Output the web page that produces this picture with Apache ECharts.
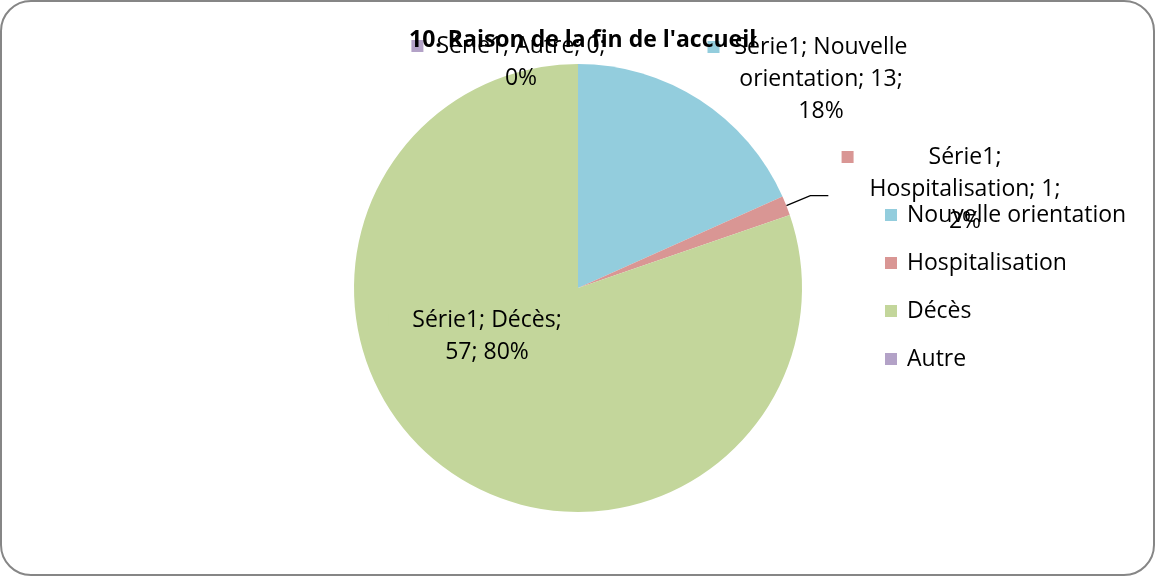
<!DOCTYPE html>
<html><head><meta charset="utf-8">
<script src="https://cdn.jsdelivr.net/npm/echarts@6/dist/echarts.min.js"></script>
<style>html,body{margin:0;padding:0;background:#fff}#c{width:1156px;height:577px}</style>
</head><body><div id="c"></div>
<script>
// ---- data ----
const seriesName = 'Série1';
const categories = ['Nouvelle orientation', 'Hospitalisation', 'Décès', 'Autre'];
const values = [13, 1, 57, 0];
const titleText = "10. Raison de la fin de l'accueil";

// ---- style / layout ----
const colors = ['#93CDDD', '#D99694', '#C3D69B', '#B3A2C7'];
const labelCenters = [[821, 79], [965, 189], [487, 336], [521, 62]];
const labelWordsPerLine = [[2, 2, 1], [1, 2, 1], [2, 2], [3, 1]];
const keyGaps = [15, 75, 12, 13];
const FONT = 'Open Sans';

const rich = { t: { fontSize: 23, fontFamily: FONT, color: '#000', lineHeight: 32 } };
colors.forEach((c, i) => {
  rich['k' + i] = { width: 12, height: 12, backgroundColor: c };
  rich['g' + i] = { width: keyGaps[i] };
  rich['e' + i] = { width: 12 + keyGaps[i] };
});

const chart = echarts.init(document.getElementById('c'), null, { renderer: 'canvas' });
chart.setOption({
  animation: false,
  color: colors,
  title: {
    text: titleText, left: 409, top: 29, padding: 0,
    textStyle: { fontFamily: FONT, fontWeight: 'bold', fontSize: 23, color: '#000' }
  },
  legend: {
    data: categories, orient: 'vertical', left: 885, top: 203, padding: 0,
    icon: 'rect', itemWidth: 12, itemHeight: 12, itemGap: 24, selectedMode: false,
    textStyle: { fontFamily: FONT, fontSize: 23, color: '#000', lineHeight: 24, padding: [0, 0, 0, 5] }
  },
  graphic: [{
    type: 'rect', silent: true, z: -10,
    shape: { x: 1, y: 1, width: 1153, height: 574, r: 30 },
    style: { fill: 'none', stroke: '#868686', lineWidth: 2 }
  }],
  series: [{
    type: 'pie',
    name: seriesName,
    center: [578, 288],
    radius: 224,
    startAngle: 90,
    clockwise: true,
    avoidLabelOverlap: false,
    percentPrecision: 0,
    itemStyle: { borderWidth: 0 },
    emphasis: { disabled: true },
    label: {
      show: true, position: 'outside', rich: rich,
      formatter: p => {
        const i = p.dataIndex;
        const words = `${p.seriesName}; ${p.name}; ${p.value}; ${p.percent}%`.split(' ');
        const counts = labelWordsPerLine[i];
        const lines = [];
        let k = 0;
        counts.forEach(n => { lines.push(words.slice(k, k + n).join(' ')); k += n; });
        return lines.map((l, j) => j === 0
          ? `{k${i}|}{g${i}|}{t|${l}}{e${i}|}`
          : `{t|${l}}`).join('\n');
      }
    },
    labelLine: { show: false, lineStyle: { color: '#000', width: 1.3 } },
    labelLayout: p => {
      const c = labelCenters[p.dataIndex];
      const r = { x: c[0], y: c[1], align: 'center', verticalAlign: 'middle' };
      if (p.dataIndex === 1 && p.labelLinePoints) {
        const a = p.labelLinePoints[0];
        r.labelLinePoints = [[a[0], a[1]], [a[0] + 24, a[1] - 10], [a[0] + 42, a[1] - 10]];
      }
      return r;
    },
    data: categories.map((n, i) => ({
      name: n, value: values[i],
      labelLine: { show: i === 1 }
    }))
  }]
});
</script></body></html>
